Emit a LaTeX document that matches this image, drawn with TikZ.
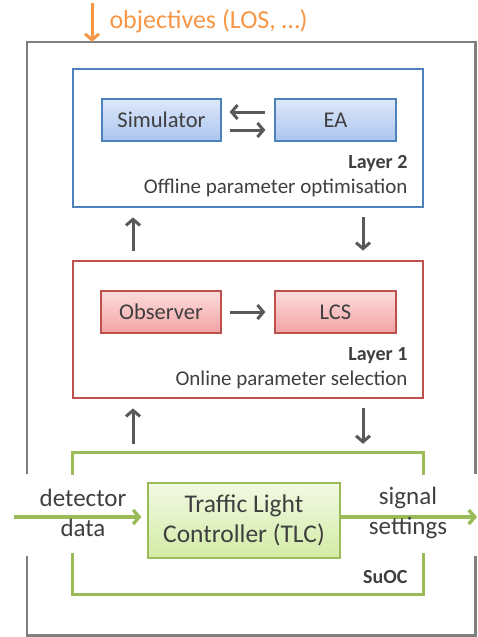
\documentclass[tikz,border=0pt]{standalone}
\usepackage{fontspec}
\setmainfont{Carlito}
\usetikzlibrary{arrows.meta,positioning}

\definecolor{layertwo}{HTML}{4F81BD}
\definecolor{layerone}{HTML}{C0504D}
\definecolor{suocgreen}{HTML}{9BBB59}
\definecolor{objorange}{HTML}{F79646}
\definecolor{framegray}{HTML}{7F7F7F}
\definecolor{arrowgray}{HTML}{595959}
\definecolor{textgray}{HTML}{3F3F3F}
\definecolor{bluetop}{HTML}{DDE8FA}
\definecolor{bluebot}{HTML}{ABC5EF}
\definecolor{redtop}{HTML}{FCDCDC}
\definecolor{redbot}{HTML}{F3A3A3}
\definecolor{greentop}{HTML}{F2FAE3}
\definecolor{greenbot}{HTML}{D3EBA6}

\begin{document}
\begin{tikzpicture}[x=1pt, y=-1pt, text=textgray,
        txt/.style = {font=\fontsize{21}{24}\selectfont, text=textgray},
        lbl/.style = {anchor=east, font=\fontsize{20}{24}\selectfont\bfseries, text=textgray},
        layer/.style = {draw, line width=2.8pt, minimum width=350pt, minimum height=137pt, inner sep=0pt},
        comp/.style = {draw, line width=1.2pt, minimum height=42pt, inner sep=0pt, font=\fontsize{22.5}{26}\selectfont, text=textgray},
        flow/.style = {-{Straight Barb[length=6pt,width=14pt]}, line width=3pt, arrowgray},
        io/.style = {-{Straight Barb[length=6pt,width=14pt]}, line width=3.4pt, suocgreen}]
        \useasboundingbox (0,0) rectangle (477,637);

        % outer frame (system under observation and control)
        \node[minimum width=448pt, minimum height=593pt, inner sep=0pt] (sys) at (251,338.5) {};
        \draw[framegray, line width=2.6pt] (sys.west |- 0,474) -- (sys.north west) -- (sys.north east) -- (sys.east |- 0,474);
        \draw[framegray, line width=2.6pt] (sys.west |- 0,556) -- (sys.south west) -- (sys.south east) -- (sys.east |- 0,556);

        % objectives
        \node[anchor=west, text=objorange, font=\fontsize{26}{30}\selectfont] (obj) at (106,21) {objectives (LOS, \dots)};
        \coordinate (objin) at (92,3);
        \draw[-{Straight Barb[length=6pt,width=14pt]}, line width=3pt, objorange] (objin) -- (objin |- sys.north);

        % layer 2
        \node[layer, draw=layertwo, minimum height=138pt] (l2) at (248,138) {};
        \node[comp, draw=layertwo, top color=bluetop, bottom color=bluebot, minimum width=119pt] (sim) at (161.5,120) {Simulator};
        \node[comp, draw=layertwo, top color=bluetop, bottom color=bluebot, minimum width=121pt] (ea) at (335.5,120) {EA};
        \node[lbl] (l2a) at (411,164) {Layer 2};
        \node[txt, anchor=east] (l2b) at (411,188) {Offline parameter optimisation};
        \draw[flow] ([yshift=8pt,xshift=-9pt]ea.west) -- ([yshift=8pt,xshift=8pt]sim.east);
        \draw[flow] ([yshift=-10pt,xshift=8pt]sim.east) -- ([yshift=-10pt,xshift=-9pt]ea.west);

        % layer 1
        \node[layer, draw=layerone] (l1) at (248,329.5) {};
        \node[comp, draw=layerone, top color=redtop, bottom color=redbot, minimum width=120pt] (obs) at (161,312) {Observer};
        \node[comp, draw=layerone, top color=redtop, bottom color=redbot, minimum width=121pt] (lcs) at (335.5,312) {LCS};
        \node[lbl] (l1a) at (411,356) {Layer 1};
        \node[txt, anchor=east] (l1b) at (411,380) {Online parameter selection};
        \draw[flow] ([xshift=8pt]obs.east) -- ([xshift=-9pt]lcs.west);

        \draw[flow, shorten <=9pt, shorten >=9pt] ([xshift=-115pt]l1.north) -- ([xshift=-115pt]l2.south);
        \draw[flow, shorten <=9pt, shorten >=9pt] ([xshift=115pt]l2.south) -- ([xshift=115pt]l1.north);

        % SuOC
        \node[minimum width=350pt, minimum height=141pt, inner sep=0pt] (suoc) at (248,523.5) {};
        \draw[suocgreen, line width=2.8pt] (suoc.west |- 0,475) -- (suoc.north west) -- (suoc.north east) -- (suoc.east |- 0,475);
        \draw[suocgreen, line width=2.8pt] (suoc.west |- 0,553) -- (suoc.south west) -- (suoc.south east) -- (suoc.east |- 0,553);
        \node[draw=suocgreen, line width=1.2pt, top color=greentop, bottom color=greenbot, minimum width=192pt, minimum height=75pt, align=center, text=textgray, font=\fontsize{25.5}{30}\selectfont] (tlc) at (244,520.5) {Traffic Light\\Controller (TLC)};
        \node[lbl] (suocl) at (411,577) {SuOC};

        \draw[flow, shorten <=9pt, shorten >=9pt] ([xshift=-115pt]suoc.north) -- ([xshift=-115pt]l1.south);
        \draw[flow, shorten <=9pt, shorten >=9pt] ([xshift=115pt]l1.south) -- ([xshift=115pt]suoc.north);

        % detector data / signal settings
        \coordinate (din) at (14,517);
        \coordinate (sout) at (477,517);
        \draw[io] (din) -- ([xshift=-6pt]tlc.west |- din);
        \draw[io] (tlc.east |- sout) -- (sout);
        \node[txt, align=center, font=\fontsize{25}{30}\selectfont] (det) at (83,513) {detector\\data};
        \node[txt, align=center, font=\fontsize{25}{30}\selectfont] (sig) at (408,513) {signal\\settings};
\end{tikzpicture}
\end{document}
